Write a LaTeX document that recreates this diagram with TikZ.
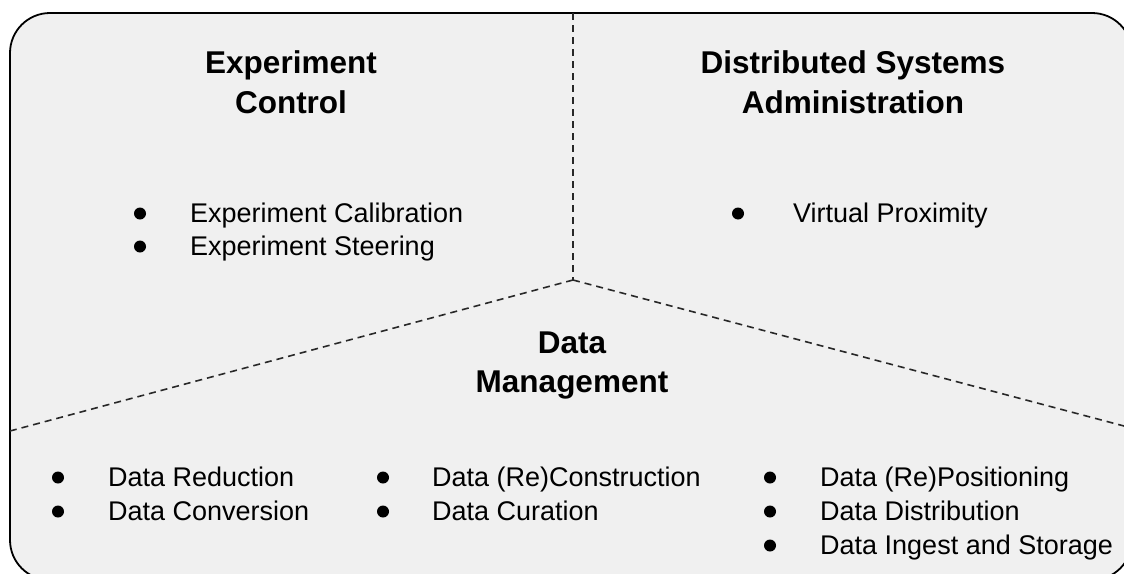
\documentclass[tikz,border=0pt]{standalone}
\usepackage{fontspec}
\setmainfont{Liberation Sans}
\definecolor{panel}{RGB}{240,240,240}
\definecolor{dashcol}{RGB}{40,40,40}
\begin{document}
\begin{tikzpicture}[x=1pt,y=-1pt,
  title/.style={font=\fontsize{31.5}{39.5}\selectfont\bfseries, anchor=base, inner sep=0pt},
  item/.style={font=\fontsize{27}{34}\selectfont, anchor=base west, inner sep=0pt},
  bul/.style={circle, fill=black, inner sep=0pt, minimum size=12pt, yshift=8.5pt},
  divider/.style={draw=dashcol, line width=1.6pt, dash pattern=on 7pt off 5pt},
  frame/.style={draw=black, line width=1.8pt, fill=panel, rounded corners=40pt}]
\useasboundingbox (0,0) rectangle (1124,573);
\begin{scope}
  \clip (0,0) rectangle (1124,573);
  \draw[frame] (10,13) rectangle (1132,580);
\end{scope}
% dividers
\coordinate (c) at (573,280);
\coordinate (top) at (573,13);
\coordinate (left) at (10,431);
\coordinate (right) at (1124,426);
\draw[divider] (top) -- (c);
\draw[divider] (c) -- (left);
\draw[divider] (c) -- (right);
% titles
\node[title] (ec1) at (291,73) {Experiment};
\node[title] (ec2) at (291,113) {Control};
\node[title] (ds1) at (853,73) {Distributed Systems};
\node[title] (ds2) at (853,113) {Administration};
\node[title] (dm1) at (572,353) {Data};
\node[title] (dm2) at (572,392) {Management};
% experiment control items
\node[bul] (b1) at (140,222) {};
\node[item] (t1) at (190,222) {Experiment Calibration};
\node[bul] (b2) at (140,255) {};
\node[item] (t2) at (190,255) {Experiment Steering};
% distributed systems items
\node[bul] (b3) at (738,222) {};
\node[item] (t3) at (793,222) {Virtual Proximity};
% data management items
\node[bul] (b4) at (58,486) {};
\node[item] (t4) at (108,486) {Data Reduction};
\node[bul] (b5) at (58,520) {};
\node[item] (t5) at (108,520) {Data Conversion};
\node[bul] (b6) at (383,486) {};
\node[item] (t6) at (432,486) {Data (Re)Construction};
\node[bul] (b7) at (383,520) {};
\node[item] (t7) at (432,520) {Data Curation};
\node[bul] (b8) at (770,486) {};
\node[item] (t8) at (820,486) {Data (Re)Positioning};
\node[bul] (b9) at (770,520) {};
\node[item] (t9) at (820,520) {Data Distribution};
\node[bul] (b10) at (770,554) {};
\node[item] (t10) at (820,554) {Data Ingest and Storage};
\end{tikzpicture}
\end{document}
